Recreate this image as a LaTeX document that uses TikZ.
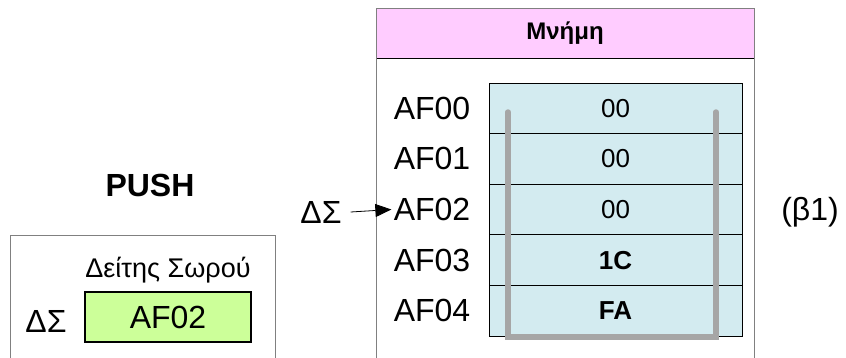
\documentclass[tikz,border=0pt]{standalone}
\usepackage{fontspec}
\setmainfont{Liberation Sans}
\usetikzlibrary{arrows.meta}
\definecolor{headpink}{HTML}{FFCCFF}
\definecolor{cellblue}{HTML}{D3EBF0}
\definecolor{spgreen}{HTML}{CCFF99}
\definecolor{stackgray}{HTML}{A6A6A6}
\definecolor{framegray}{HTML}{808080}

\begin{document}
\begin{tikzpicture}[x=0.5pt,y=-0.5pt,
		cell/.style={draw, fill=cellblue, minimum width=126.5pt, minimum height=25.3pt, inner sep=0pt, font=\fontsize{13}{15}\selectfont},
		addr/.style={inner sep=1pt, font=\fontsize{16}{19}\selectfont},
		bigtext/.style={font=\fontsize{16}{19}\selectfont}]
			\useasboundingbox (0,0) rectangle (846,358);
			
			\fill[headpink] (376,8) rectangle (754,58);
			\draw (376,58) -- (754,58);
			\draw[framegray] (376,358) -- (376,8) -- (754,8) -- (754,358);
			\node[font=\fontsize{12}{14}\selectfont\bfseries] (title) at (565,33) {Μνήμη};
			
			\foreach \i/\v in {0/00,1/00,2/00,3/{\textbf{1C}},4/{\textbf{FA}}} {
				\node[cell] (cell\i) at (615.5,{83+50.6*(\i+0.5)}) {\v};
				\node[addr] (addr\i) at (432,{83+50.6*(\i+0.5)}) {AF0\i};
			}
			
			\draw[stackgray, line width=2.7pt, line cap=round] (508,112) -- (508,337) -- (716,337) -- (716,112);
			
			\node[bigtext] (sp) at (321,212) {ΔΣ};
			\draw[-{Triangle[length=8pt,width=6.5pt]}] (sp.east) ++(2,0) -- (addr2.west);
			\node[bigtext] (label) at (810,212) {(β1)};
			
			\node[font=\fontsize{16}{19}\selectfont\bfseries] (push) at (150,185) {PUSH};
			\draw[framegray] (10,358) -- (10,235) -- (275,235) -- (275,358);
			\node[font=\fontsize{13.5}{16}\selectfont] (spname) at (168,270) {Δείτης Σωρού};
			\node[draw, line width=1pt, fill=spgreen, minimum width=83pt, minimum height=25pt, font=\fontsize{16}{19}\selectfont] (spbox) at (168,317) {AF02};
			\node[bigtext] (splabel) at (46,321) {ΔΣ};
		\end{tikzpicture}
\end{document}
